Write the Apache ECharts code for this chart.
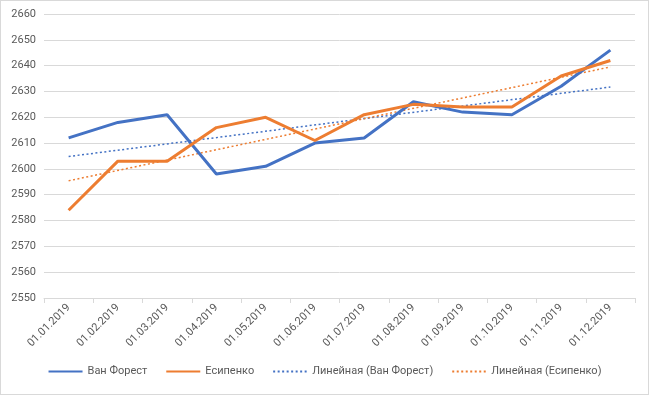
<!DOCTYPE html>
<html>
<head>
<meta charset="utf-8">
<script src="https://cdn.jsdelivr.net/npm/echarts@6/dist/echarts.min.js"></script>
<style>
html,body{margin:0;padding:0;background:#fff;}
#c{width:647px;height:393px;border:1px solid #d9d9d9;}
</style>
</head>
<body>
<div id="c"></div>
<script>
const categories = ['01.01.2019','01.02.2019','01.03.2019','01.04.2019','01.05.2019','01.06.2019','01.07.2019','01.08.2019','01.09.2019','01.10.2019','01.11.2019','01.12.2019'];
const vanForest = [2612, 2618, 2621, 2598, 2601, 2610, 2612, 2626, 2622, 2621, 2632, 2646];
const esipenko = [2584, 2603, 2603, 2616, 2620, 2611, 2621, 2625, 2624, 2624, 2636, 2642];
const trendVanForest = [2604.8, null, null, null, null, null, null, null, null, null, null, 2631.7];
const trendEsipenko = [2595.4, null, null, null, null, null, null, null, null, null, null, 2639.5];
const yTicks = {min: 2550, max: 2660, interval: 10};

const chart = echarts.init(document.getElementById('c'));
const font = 'Roboto, "Liberation Sans", sans-serif';
chart.setOption({
  animation: false,
  textStyle: {fontFamily: font},
  grid: {left: 43, right: 13, top: 13, bottom: 96},
  legend: {
    bottom: 12,
    left: 'center',
    itemWidth: 34,
    itemHeight: 4,
    itemGap: 18,
    itemStyle: {opacity: 0, borderWidth: 0},
    textStyle: {color: '#595959', fontSize: 11, fontFamily: font},
    data: ['Ван Форест', 'Есипенко', 'Линейная (Ван Форест)', 'Линейная (Есипенко)']
  },
  xAxis: {
    type: 'category',
    data: categories,
    boundaryGap: true,
    axisLine: {lineStyle: {color: '#d9d9d9', width: 1}},
    axisTick: {show: true, length: 5, lineStyle: {color: '#d9d9d9'}},
    axisLabel: {rotate: 45, color: '#595959', fontSize: 11, margin: 8, fontFamily: font}
  },
  yAxis: {
    type: 'value',
    min: yTicks.min, max: yTicks.max, interval: yTicks.interval,
    axisLine: {show: false},
    axisTick: {show: false},
    splitLine: {lineStyle: {color: '#d9d9d9', width: 1}},
    axisLabel: {color: '#595959', fontSize: 11, margin: 8, fontFamily: font, formatter: v => String(v)}
  },
  series: [
    {name: 'Ван Форест', type: 'line', data: vanForest, symbol: 'none', lineStyle: {color: '#4472C4', width: 3}, itemStyle: {color: '#4472C4'}, z: 3},
    {name: 'Есипенко', type: 'line', data: esipenko, symbol: 'none', lineStyle: {color: '#ED7D31', width: 3}, itemStyle: {color: '#ED7D31'}, z: 3},
    {name: 'Линейная (Ван Форест)', type: 'line', data: trendVanForest, connectNulls: true, symbol: 'none', lineStyle: {color: '#4472C4', width: 1.5, type: [2, 2.5]}, itemStyle: {color: '#4472C4'}, z: 2},
    {name: 'Линейная (Есипенко)', type: 'line', data: trendEsipenko, connectNulls: true, symbol: 'none', lineStyle: {color: '#ED7D31', width: 1.5, type: [2, 2.5]}, itemStyle: {color: '#ED7D31'}, z: 2}
  ]
});
</script>
</body>
</html>
